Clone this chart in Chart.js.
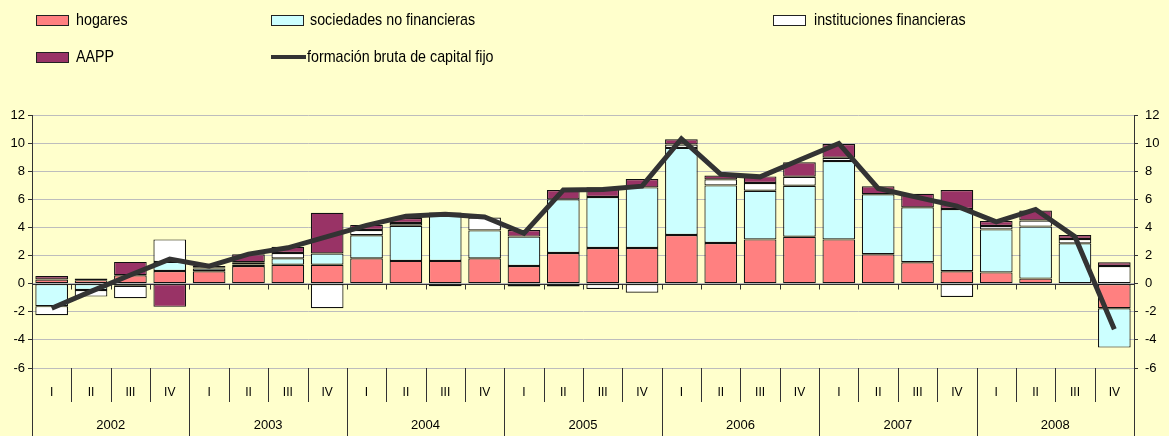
<!DOCTYPE html>
<html>
<head>
<meta charset="utf-8">
<script src="https://cdn.jsdelivr.net/npm/chart.js@4.4.1/dist/chart.umd.min.js"></script>
<style>
  html, body { margin: 0; padding: 0; background: #FFFFCC; }
  #wrap { position: relative; width: 1169px; height: 436px; background: #FFFFCC; overflow: hidden; }
  #chart { position: absolute; left: 0; top: 0; }
  .sw { position: absolute; width: 31px; height: 9px; border: 1px solid #222; }
  .ln { position: absolute; width: 35px; height: 4px; background: #333; }
  .txt { position: absolute; height: 20px; line-height: 20px; font-family: "Liberation Sans", Arial, sans-serif;
         font-size: 17px; color: #000; white-space: nowrap; transform: scaleX(0.84); transform-origin: left center; }
</style>
</head>
<body>
<div id="wrap">
  <canvas id="chart" width="1169" height="436"></canvas>

  <div class="sw" style="left:36px;top:15px;background:#FF8080"></div>
  <div class="txt" style="left:76px;top:10px">hogares</div>
  <div class="sw" style="left:271px;top:15px;background:#CCFFFF"></div>
  <div class="txt" style="left:310px;top:10px">sociedades no financieras</div>
  <div class="sw" style="left:773px;top:15px;background:#FFFFFF"></div>
  <div class="txt" style="left:814px;top:10px">instituciones financieras</div>

  <div class="sw" style="left:36px;top:52px;background:#993366"></div>
  <div class="txt" style="left:76px;top:47px">AAPP</div>
  <div class="ln" style="left:271px;top:55px"></div>
  <div class="txt" style="left:307px;top:47px">formación bruta de capital fijo</div>
</div>

<script>
// categories
const quarters = ['I', 'II', 'III', 'IV', 'I', 'II', 'III', 'IV', 'I', 'II', 'III', 'IV', 'I', 'II', 'III', 'IV',
                  'I', 'II', 'III', 'IV', 'I', 'II', 'III', 'IV', 'I', 'II', 'III', 'IV'];
const years = ['2002', '2003', '2004', '2005', '2006', '2007', '2008'];

// contributions (pp)
const hogares = [0.3, 0.25, 0.6, 0.9, 0.88, 1.25, 1.35, 1.35, 1.8, 1.62, 1.62, 1.8,
                 1.26, 2.18, 2.54, 2.54, 3.46, 2.89, 3.15, 3.34, 3.15, 2.09, 1.52, 0.88,
                 0.8, 0.36, 0, -1.75];
const sociedades = [-1.6, -0.45, -0.15, 0.65, 0.2, 0.12, 0.45, 0.8, 1.64, 2.5, 3.4, 1.99,
                    2.09, 3.82, 3.63, 4.31, 6.2, 4.1, 3.46, 3.63, 5.57, 4.27, 3.91, 4.43,
                    3.06, 3.7, 2.87, -2.8];
const instituciones = [-0.65, -0.47, -0.88, 1.6, 0.05, 0.15, 0.38, -1.75, 0.38, 0.2, 0.05, 0.92,
                       -0.2, -0.2, -0.38, -0.65, 0.24, 0.43, 0.55, 0.64, 0.24, 0, 0, -0.95,
                       0.24, 0.43, 0.31, 1.26];
const aapp = [0.25, 0.12, 0.95, -1.65, 0.12, 0.57, 0.45, 2.9, 0.36, 0.35, -0.18, 0,
              0.47, 0.66, 0.69, 0.6, 0.38, 0.28, 0.47, 1.02, 0.97, 0.57, 0.97, 1.35,
              0.36, 0.71, 0.28, 0.26];
const fbcf = [-1.75, -0.55, 0.62, 1.75, 1.25, 2.1, 2.55, 3.35, 4.15, 4.8, 4.93, 4.75,
              3.58, 6.66, 6.7, 6.94, 10.3, 7.78, 7.6, 8.8, 9.98, 6.78, 6.14, 5.52,
              4.4, 5.28, 3.34, -3.25];

// value axis
const yMin = -6;
const yMax = 12;
const yStep = 2;

Chart.defaults.font.family = '"Liberation Sans", Arial, sans-serif';
Chart.defaults.color = '#000';

// zero line with little ticks, and the separators under the plot
const axisExtras = {
    id: 'axisExtras',
    beforeDatasetsDraw(chart) {
        let ctx = chart.ctx;
        let x = chart.scales.x;
        let y0 = Math.round(chart.scales.y.getPixelForValue(0)) + 0.5;
        let w = x.width / quarters.length;
        ctx.save();
        ctx.strokeStyle = '#333';
        ctx.lineWidth = 1;
        ctx.beginPath();
        ctx.moveTo(x.left, y0);
        ctx.lineTo(x.right, y0);
        for (let i = 1; i < quarters.length; i++) {
            let px = Math.round(x.left + i * w) + 0.5;
            ctx.moveTo(px, y0);
            ctx.lineTo(px, y0 + 5);
        }
        ctx.stroke();
        ctx.restore();
    },
    afterDraw(chart) {
        let ctx = chart.ctx;
        let x = chart.scales.x;
        let bottom = chart.chartArea.bottom;
        let w = x.width / quarters.length;
        ctx.save();
        ctx.strokeStyle = '#333';
        ctx.lineWidth = 1;
        ctx.beginPath();
        for (let i = 0; i <= quarters.length; i++) {
            let px = Math.round(x.left + i * w) + 0.5;
            ctx.moveTo(px, bottom);
            ctx.lineTo(px, i % 4 == 0 ? chart.height : bottom + 34);
        }
        ctx.stroke();
        ctx.restore();
    }
};

function fixWidth(px) {
    return function (scale) { scale.width = px; };
}
function fixHeight(px) {
    return function (scale) { scale.height = px; };
}

function barSet(label, data, color) {
    return {
        type: 'bar',
        label: label,
        data: data,
        backgroundColor: color,
        borderColor: '#111',
        borderWidth: 1.2,
        borderSkipped: false,
        stack: 's',
        order: 1,
        barPercentage: 0.83,
        categoryPercentage: 1
    };
}

function drawChart() {
    let ctx = document.getElementById('chart');
    new Chart(ctx, {
        data: {
            labels: quarters,
            datasets: [
                {
                    type: 'line',
                    label: 'formación bruta de capital fijo',
                    data: fbcf,
                    borderColor: '#333333',
                    borderWidth: 5,
                    pointRadius: 0,
                    tension: 0,
                    order: 0
                },
                barSet('hogares', hogares, '#FF8080'),
                barSet('sociedades no financieras', sociedades, '#CCFFFF'),
                barSet('instituciones financieras', instituciones, '#FFFFFF'),
                barSet('AAPP', aapp, '#993366')
            ]
        },
        options: {
            responsive: false,
            animation: false,
            layout: { padding: { top: 115, left: 0, right: 0, bottom: 0 } },
            plugins: { legend: { display: false }, tooltip: { enabled: false } },
            scales: {
                x: {
                    type: 'category',
                    position: 'bottom',
                    stacked: true,
                    offset: true,
                    weight: 0,
                    grid: { display: false, drawTicks: false },
                    border: { display: false },
                    ticks: { font: { size: 12 }, padding: 17, maxRotation: 0, autoSkip: false },
                    afterFit: fixHeight(34)
                },
                x2: {
                    type: 'category',
                    labels: years,
                    position: 'bottom',
                    offset: true,
                    weight: 1,
                    grid: { display: false, drawTicks: false },
                    border: { display: false },
                    ticks: { font: { size: 13 }, padding: 16, maxRotation: 0, autoSkip: false },
                    afterFit: fixHeight(34)
                },
                y: {
                    position: 'left',
                    stacked: true,
                    min: yMin,
                    max: yMax,
                    ticks: { stepSize: yStep, font: { size: 13 }, padding: 3 },
                    grid: { color: '#BDBDBD', tickColor: '#333', tickLength: 4 },
                    border: { color: '#333', width: 1 },
                    afterFit: fixWidth(32)
                },
                y2: {
                    position: 'right',
                    min: yMin,
                    max: yMax,
                    ticks: { stepSize: yStep, font: { size: 13 }, padding: 7 },
                    grid: { drawOnChartArea: false, tickColor: '#333', tickLength: 4 },
                    border: { color: '#333', width: 1 },
                    afterFit: fixWidth(35)
                }
            }
        },
        plugins: [axisExtras]
    });
}

drawChart();
</script>
</body>
</html>
